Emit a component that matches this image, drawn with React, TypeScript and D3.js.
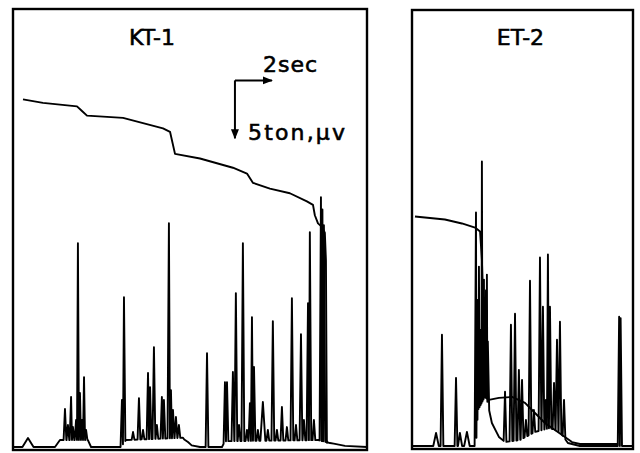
import React from "react";
import * as d3 from "d3";

// time in seconds, force in ton, EMG in microvolt (5 ton ~ 5 uV on the chart)
const kt1Pressure: [number, number][] = [
  [0.54, 30.0], [1.62, 29.7], [3.46, 29.4], [3.73, 29.0], [4.0, 28.6],
  [5.95, 28.4], [8.11, 27.5], [8.49, 27.2], [8.76, 25.3], [10.11, 24.9],
  [11.89, 24.1], [12.65, 23.6], [12.97, 22.8], [13.89, 22.3], [14.97, 21.9],
  [15.89, 21.2], [16.22, 20.9], [16.32, 20.0], [16.49, 19.3], [16.7, 19.0],
  [16.86, 18.5], [16.92, 16.1], [16.97, 0.6], [17.0, 0.3],
];

const kt1Floor: [number, number][] = [
  [0, 0], [2.27, 0], [2.54, 0.6], [4.05, 0.6], [4.22, 0], [5.84, 0],
  [6.11, 0.6], [9.19, 0.8], [9.46, 0.2], [10.11, 0], [11.3, 0], [11.46, 0.5],
  [16.49, 0.6], [17.14, 0.35], [17.95, 0.1], [19.14, 0],
];

// [time, amplitude, half width?]
const kt1Spikes: number[][] = [
  [0.81, 0.78, 0.3],
  [2.81, 3.28], [2.97, 1.9], [3.14, 4.31], [3.24, 1.72], [3.41, 2.33],
  [3.51, 17.59], [3.62, 4.66], [3.73, 2.33], [3.84, 6.03], [3.95, 1.47],
  [5.89, 4.05], [6.0, 12.93], [6.49, 1.29], [6.81, 4.22], [7.03, 1.47],
  [7.3, 6.38], [7.41, 5.17], [7.62, 8.62], [7.78, 1.9], [8.05, 4.31],
  [8.16, 4.05], [8.43, 19.31], [8.54, 4.91], [8.65, 3.19], [8.81, 2.59],
  [8.97, 1.9], [9.46, 0.43, 0.2],
  [10.49, 8.1], [11.46, 5.6], [11.57, 5.6], [11.89, 6.47], [12.05, 13.28],
  [12.22, 1.9], [12.43, 17.59], [12.65, 1.47], [12.81, 3.79], [12.92, 11.21],
  [13.03, 6.9], [13.24, 1.47], [13.51, 3.88, 0.15], [13.78, 1.47],
  [14.05, 10.86], [14.27, 1.47], [14.54, 3.45], [14.81, 1.72], [15.08, 12.84],
  [15.3, 1.9], [15.57, 9.74], [15.73, 2.33], [15.95, 12.41], [16.05, 18.53],
  [16.27, 2.33], [16.65, 21.55], [16.73, 20.5], [16.81, 19.14],
  [17.14, 0.34, 0.2],
];

const et2Pressure: [number, number][] = [
  [0.16, 19.74], [1.78, 19.48], [2.7, 19.14], [3.41, 18.79], [3.68, 18.45],
  [3.78, 16.03], [3.89, 10.0], [4.0, 4.14], [4.16, 3.97], [4.7, 4.14],
  [5.41, 4.22], [6.11, 3.71], [6.65, 2.84], [7.19, 1.98], [7.73, 1.38],
  [8.27, 0.78], [8.65, 0.34], [9.08, 0.17], [11.15, 0.17],
];

const et2Floor: [number, number][] = [
  [0, 0], [3.46, 0], [3.57, 3.1], [4.0, 4.4], [4.11, 3.53], [4.32, 1.98],
  [4.7, 0.78], [5.03, 0.34], [5.84, 0.52], [6.65, 1.21], [7.46, 1.55],
  [8.0, 1.21], [8.43, 0.26], [9.08, 0], [11.95, 0],
];

const et2Spikes: number[][] = [
  [1.3, 1.12, 0.15], [1.62, 9.57], [2.38, 5.86], [2.59, 1.12, 0.12],
  [2.97, 1.21, 0.15],
  [3.46, 20.09], [3.51, 9.5], [3.57, 12.59], [3.62, 15.43], [3.68, 8.2],
  [3.73, 10.0], [3.78, 24.48], [3.84, 12.2], [3.89, 14.31], [3.95, 10.86],
  [4.0, 13.4], [4.05, 14.74], [4.1, 9.0],
  [5.03, 4.66], [5.35, 10.43], [5.57, 11.38], [5.78, 6.55], [5.95, 5.69],
  [6.16, 2.24], [6.38, 14.22], [6.59, 3.1], [6.92, 16.21], [7.08, 11.98],
  [7.24, 3.97], [7.35, 16.47], [7.46, 11.98], [7.68, 5.43], [7.84, 9.14],
  [8.0, 10.69], [8.22, 3.97],
  [11.2, 11.12], [11.28, 11.0],
];

const panels = [
  { title: "KT-1", pressure: kt1Pressure, floor: kt1Floor, spikes: kt1Spikes, tMax: 19.14, vMax: 37.8, x0: 13, x1: 367, base: 447, top: 9 },
  { title: "ET-2", pressure: et2Pressure, floor: et2Floor, spikes: et2Spikes, tMax: 11.95, vMax: 37.5, x0: 412, x1: 633, base: 446, top: 10 },
];

const scaleBarStart = [12.0, 31.64]; // sec, ton
const scaleBarSize = [2, 5];

function buildTrace(spikes: number[][], floor: [number, number][], halfW = 0.075) {
  const fx = floor.map((d) => d[0]);
  const floorAt = (t: number) => {
    const i = d3.bisectRight(fx, t);
    if (i <= 0) return floor[0][1];
    if (i >= floor.length) return floor[floor.length - 1][1];
    const [ta, va] = floor[i - 1];
    const [tb, vb] = floor[i];
    return va + ((t - ta) / (tb - ta)) * (vb - va);
  };
  const s = [...spikes].sort((a, b) => a[0] - b[0]);
  const pts: [number, number][] = [];
  let last = -Infinity;
  s.forEach((sp, i) => {
    const [t, amp] = sp;
    const w = sp[2] ?? halfW;
    const left = Math.max(t - w, i > 0 ? (t + s[i - 1][0]) / 2 : -Infinity);
    const right = Math.min(t + w, i < s.length - 1 ? (t + s[i + 1][0]) / 2 : Infinity);
    floor.forEach((f) => {
      if (f[0] > last && f[0] < left) pts.push(f);
    });
    pts.push([left, floorAt(left)], [t, amp], [right, floorAt(right)]);
    last = right;
  });
  floor.forEach((f) => {
    if (f[0] > last) pts.push(f);
  });
  return pts;
}

export default function App() {
  return (
    <svg
      width={640}
      height={453}
      style={{ position: "absolute", left: 0, top: 0, background: "#fff" }}
      fontFamily="DejaVu Sans"
    >
      <defs>
        <marker id="ah" viewBox="0 0 10 10" refX="9" refY="5" markerWidth="5" markerHeight="5" orient="auto">
          <path d="M0,1 L10,5 L0,9 Z" fill="#000" />
        </marker>
      </defs>
      {panels.map((p, k) => {
        const x = d3.scaleLinear().domain([0, p.tMax]).range([p.x0, p.x1]);
        const y = d3.scaleLinear().domain([0, p.vMax]).range([p.base, p.top]);
        const line = d3.line<[number, number]>().x((d) => x(d[0])).y((d) => y(d[1]));
        const emg = buildTrace(p.spikes, p.floor);
        return (
          <g key={p.title}>
            <rect
              x={p.x0}
              y={p.top}
              width={p.x1 - p.x0}
              height={p.base + 3 - p.top}
              fill="none"
              stroke="#000"
              strokeWidth={2.4}
            />
            <path d={line(p.pressure) ?? ""} fill="none" stroke="#000" strokeWidth={1.9} strokeLinejoin="round" />
            <path d={line(emg) ?? ""} fill="none" stroke="#000" strokeWidth={1.9} strokeLinejoin="round" />
            <text
              x={(p.x0 + p.x1) / 2 + (k === 0 ? -38 : -2)}
              y={45}
              fontSize={22}
              textAnchor="middle"
              stroke="#000"
              strokeWidth={0.6}
            >
              {p.title}
            </text>
            {k === 0 && (
              <g>
                <line
                  x1={x(scaleBarStart[0])}
                  y1={y(scaleBarStart[1])}
                  x2={x(scaleBarStart[0] + scaleBarSize[0])}
                  y2={y(scaleBarStart[1])}
                  stroke="#000"
                  strokeWidth={2}
                  markerEnd="url(#ah)"
                />
                <line
                  x1={x(scaleBarStart[0])}
                  y1={y(scaleBarStart[1])}
                  x2={x(scaleBarStart[0])}
                  y2={y(scaleBarStart[1] - scaleBarSize[1])}
                  stroke="#000"
                  strokeWidth={2}
                  markerEnd="url(#ah)"
                />
                <text x={263} y={72} fontSize={22} textLength={54} stroke="#000" strokeWidth={0.6}>
                  2sec
                </text>
                <text x={248} y={140} fontSize={22} textLength={97} stroke="#000" strokeWidth={0.6}>
                  5ton,μv
                </text>
              </g>
            )}
          </g>
        );
      })}
    </svg>
  );
}
